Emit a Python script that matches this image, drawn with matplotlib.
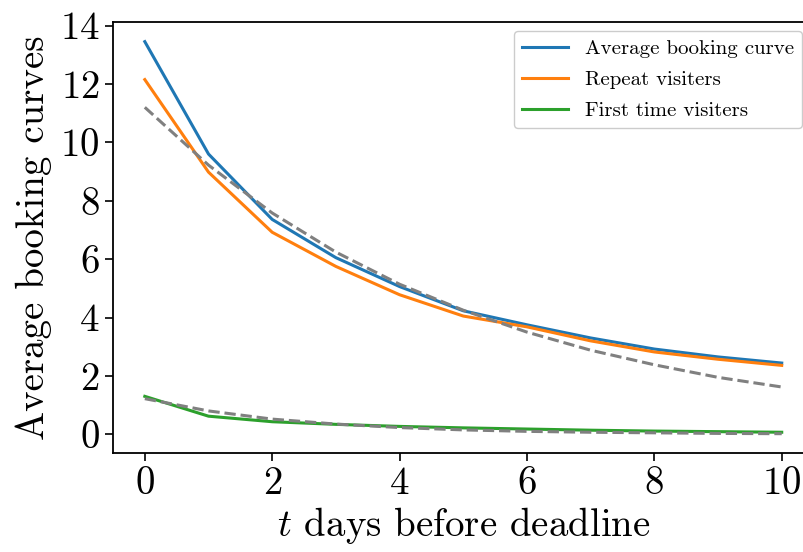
import matplotlib
matplotlib.use("Agg")
import matplotlib.pyplot as plt

plt.rcParams['font.family'] = ['cmr10', 'DejaVu Serif']
plt.rcParams['mathtext.fontset'] = 'cm'
plt.rcParams['axes.formatter.use_mathtext'] = True
plt.rcParams['axes.unicode_minus'] = False

days = [0, 1, 2, 3, 4, 5, 6, 7, 8, 9, 10]
average_curve = [13.45, 9.6, 7.36, 6.05, 5.06, 4.23, 3.75, 3.30, 2.92, 2.65, 2.44]
repeat_visitors = [12.15, 8.98, 6.92, 5.75, 4.78, 4.05, 3.68, 3.20, 2.82, 2.57, 2.36]
first_time = [1.30, 0.62, 0.43, 0.34, 0.27, 0.22, 0.18, 0.14, 0.11, 0.09, 0.07]
fit_repeat = [11.2, 9.22, 7.58, 6.24, 5.14, 4.25, 3.50, 2.88, 2.38, 1.95, 1.62]
fit_first = [1.22, 0.80, 0.52, 0.35, 0.23, 0.15, 0.10, 0.07, 0.05, 0.03, 0.02]

fig = plt.figure(figsize=(8.04, 5.52), dpi=100)
ax = fig.add_axes([0.1405, 0.1788, 0.8714, 0.7813])

lw = 2.2
ax.plot(days, average_curve, color='#1f77b4', lw=lw, label='Average booking curve')
ax.plot(days, repeat_visitors, color='#ff7f0e', lw=lw, label='Repeat visiters')
ax.plot(days, first_time, color='#2ca02c', lw=lw, label='First time visiters')
ax.plot(days, fit_repeat, color='gray', lw=lw, ls='--')
ax.plot(days, fit_first, color='gray', lw=lw, ls='--')

ax.set_xticks([0, 2, 4, 6, 8, 10])
ax.set_yticks([0, 2, 4, 6, 8, 10, 12, 14])
ax.tick_params(labelsize=28, length=6, width=1.2)
for s in ax.spines.values():
    s.set_linewidth(1.3)
ax.set_xlabel('$t$ days before deadline', fontsize=28, labelpad=2)
ax.set_ylabel('Average booking curves', fontsize=28, labelpad=6)

ax.legend(loc='upper right', bbox_to_anchor=(0.984, 0.979), borderaxespad=0,
          fontsize=15, framealpha=1, handlelength=2.2, labelspacing=0.6)

fig.savefig('out.png', dpi=100)
